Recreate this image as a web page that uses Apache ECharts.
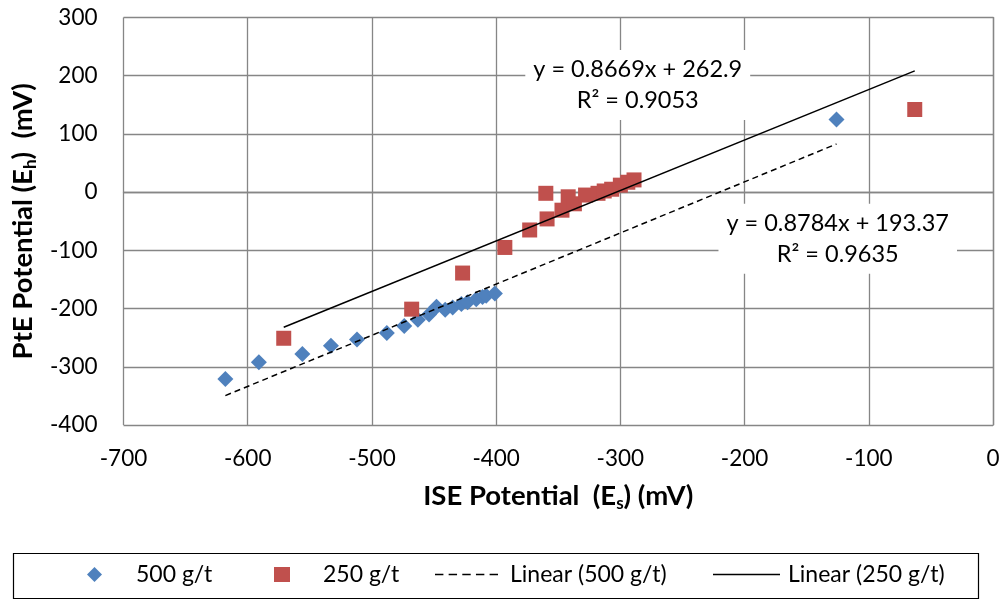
<!DOCTYPE html>
<html>
<head>
<meta charset="utf-8">
<title>PtE vs ISE potential</title>
<script src="https://cdn.jsdelivr.net/npm/echarts@6/dist/echarts.min.js"></script>
<style>
  html, body {margin: 0; padding: 0; background: #fff;}
  #chart {width: 1006px; height: 601px;}
</style>
</head>
<body>
<div id="chart"></div>
<script>
// 500 g/t readings: ISE potential (x) and PtE potential (y), mV
var ise500 = [-618, -591, -556, -533, -512, -488, -474, -463, -454, -448, -441, -435, -428, -423, -416, -411, -408, -401, -126];
var pte500 = [-321, -292, -278, -264, -253, -242, -230, -219, -210, -197, -202, -198, -192, -189, -184, -180, -178, -174, 125];
// 250 g/t readings
var ise250 = [-571, -468, -427, -393, -373, -360, -359, -347, -342, -337, -328, -318, -313, -307, -300, -294, -289, -63];
var pte250 = [-251, -201, -139, -95, -65, -2, -46, -31, -8, -20, -5, -2, 2, 5, 12, 17, 21, 142];
// trend line fits, as printed on the chart
var fit500 = {slope: 0.8784, icept: 193.37, r2: '0.9635'};
var fit250 = {slope: 0.8669, icept: 262.9, r2: '0.9053'};
// where the equation boxes sit, in data units
var labelAt250 = [-286, 184];
var labelAt500 = [-125, -80];

var FONT = 'Lato';
var GRID = '#868686';

function pairs(xs, ys) {
  return xs.map(function (x, i) { return [x, ys[i]]; });
}
function trend(xs, fit) {
  var lo = Math.min.apply(null, xs), hi = Math.max.apply(null, xs);
  return [[lo, fit.slope * lo + fit.icept], [hi, fit.slope * hi + fit.icept]];
}
function eqText(fit) {
  return 'y = ' + fit.slope + 'x + ' + fit.icept + '\nR\u00b2 = ' + fit.r2;
}

// legend icons for the trend lines (plain line, and five dashes)
var solidIcon = 'path://M0,0h64v1.5h-64z';
var dashIcon = 'path://';
for (var d = 0; d < 5; d++) dashIcon += 'M' + (d * 13) + ',0h8v1.5h-8z';

var chart = echarts.init(document.getElementById('chart'));

function oneLegend(name, left, itemW, padLeft, icon) {
  var item = {name: name};
  if (icon) item.icon = icon;
  return {
    data: [item], left: left, top: 563, padding: 0,
    itemWidth: itemW, itemHeight: 15, symbolKeepAspect: true,
    textStyle: {fontFamily: FONT, fontSize: 23, color: '#000', padding: [0, 0, 0, padLeft]}
  };
}

var axisCommon = {
  type: 'value',
  interval: 100,
  axisLine: {show: true, lineStyle: {color: GRID, width: 1.3}},
  axisTick: {show: false},
  splitLine: {show: true, lineStyle: {color: GRID, width: 1.3}},
  axisLabel: {fontFamily: FONT, fontSize: 22.5, color: '#000'},
  nameLocation: 'middle',
  nameTextStyle: {
    fontFamily: FONT, fontSize: 27.5, fontWeight: 'bold', color: '#000',
    rich: {s: {fontFamily: FONT, fontSize: 17, fontWeight: 'bold', color: '#000', padding: [14, 0, 0, 0]}}
  }
};

var option = {
  animation: false,
  backgroundColor: '#fff',
  grid: {left: 123.5, right: 13, top: 17.5, bottom: 176, containLabel: false},
  xAxis: echarts.util.merge({
    min: -700, max: 0,
    name: 'ISE Potential  (E{s|s}) (mV)',
    nameGap: 56,
    axisLabel: {margin: 22}
  }, axisCommon),
  yAxis: echarts.util.merge({
    min: -400, max: 300,
    name: 'PtE Potential (E{s|h})  (mV)',
    nameGap: 82,
    axisLabel: {margin: 26}
  }, axisCommon),
  legend: [
    oneLegend('500 g/t', 87, 15, 29),
    oneLegend('250 g/t', 274, 16, 28),
    oneLegend('Linear (500 g/t)', 435, 63, 7, dashIcon),
    oneLegend('Linear (250 g/t)', 713, 67, 3, solidIcon)
  ],
  series: [
    {
      name: '500 g/t', type: 'scatter', symbol: 'diamond', symbolSize: 16,
      itemStyle: {color: '#4F81BD', opacity: 1},
      data: pairs(ise500, pte500), z: 3
    },
    {
      name: '250 g/t', type: 'scatter', symbol: 'rect', symbolSize: 15,
      itemStyle: {color: '#C0504D', opacity: 1},
      data: pairs(ise250, pte250), z: 3
    },
    {
      name: 'Linear (500 g/t)', type: 'line', symbol: 'none', silent: true,
      itemStyle: {color: '#000'},
      lineStyle: {color: '#000', width: 1.5, type: [6, 4]},
      data: trend(ise500, fit500), z: 5
    },
    {
      name: 'Linear (250 g/t)', type: 'line', symbol: 'none', silent: true,
      itemStyle: {color: '#000'},
      lineStyle: {color: '#000', width: 1.5},
      data: trend(ise250, fit250), z: 5
    }
  ]
};

chart.setOption(option);

// equation boxes and the legend frame
var p250 = chart.convertToPixel({gridIndex: 0}, labelAt250);
var p500 = chart.convertToPixel({gridIndex: 0}, labelAt500);
function eqBox(p, fit) {
  return {
    type: 'text', x: p[0], y: p[1], z: 10,
    style: {
      text: eqText(fit), fill: '#000', font: '23.5px ' + FONT,
      align: 'center', verticalAlign: 'middle', lineHeight: 31,
      backgroundColor: '#fff', padding: [4, 8]
    }
  };
}
chart.setOption({
  graphic: [
    eqBox(p250, fit250),
    eqBox(p500, fit500),
    {
      type: 'rect', z: 1,
      shape: {x: 13.5, y: 553.5, width: 965, height: 45},
      style: {fill: 'none', stroke: '#000', lineWidth: 1.2}
    }
  ]
});
</script>
</body>
</html>
